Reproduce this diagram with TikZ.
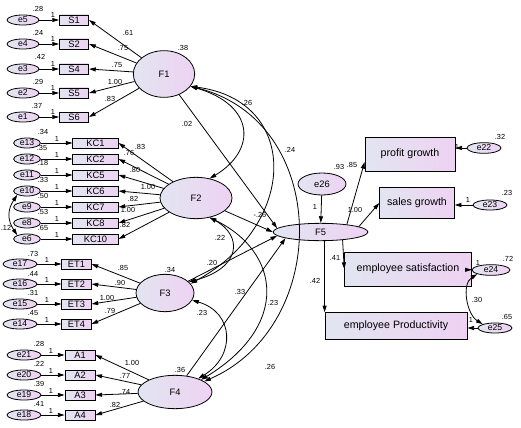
\documentclass[tikz,border=0pt]{standalone}
\usepackage{fontspec}
\setmainfont{Liberation Sans}
\usetikzlibrary{arrows.meta,shapes.geometric}

\definecolor{shadeL}{RGB}{226,229,241}
\definecolor{shadeR}{RGB}{238,210,242}
\tikzset{every picture/.style={line width=0.6pt}}
\tikzset{
	lat/.style={ellipse, draw, left color=shadeL, right color=shadeR, inner sep=0pt, font=\fontsize{7}{8}\selectfont},
	errv/.style={ellipse, draw, left color=shadeL, right color=shadeR, inner sep=0pt, minimum height=7.5pt, minimum width=#1, font=\fontsize{6.5}{7}\selectfont},
	obsv/.style={rectangle, draw, left color=shadeL, right color=shadeR, inner sep=0pt, minimum height=7.5pt, minimum width=#1, font=\fontsize{7}{8}\selectfont},
	bigv/.style={rectangle, draw, left color=shadeL, right color=shadeR, inner sep=0pt, minimum width=#1, font=\fontsize{8}{9}\selectfont},
	est/.style={inner sep=0pt, font=\fontsize{5.5}{6}\selectfont},
	pth/.style={-{Triangle[length=5pt,width=3pt]}},
	cov/.style={{Triangle[length=5pt,width=3pt]}-{Triangle[length=5pt,width=3pt]}},
}

\begin{document}
\begin{tikzpicture}[x=0.75pt,y=0.75pt,yscale=-1,xscale=1]
	\useasboundingbox (0,0) rectangle (521,428);

	%Latent factors
	\node [lat, minimum width=46pt, minimum height=35pt] (F1) at (164,74) {F1};
	\node [lat, minimum width=54pt, minimum height=31pt] (F2) at (196,198) {F2};
	\node [lat, minimum width=43.5pt, minimum height=28pt] (F3) at (165,293) {F3};
	\node [lat, minimum width=55.5pt, minimum height=25pt] (F4) at (175,392) {F4};
	\node [lat, minimum width=71pt, minimum height=13pt] (F5) at (320.5,232) {F5};
	\node [lat, minimum width=36pt, minimum height=16.5pt] (e26) at (322,184) {e26};

	%S items
	\node [errv=24pt] (e5) at (23,20) {e5};
	\node [obsv=22pt] (S1) at (74,20) {S1};
	\node [errv=24pt] (e4) at (23,44) {e4};
	\node [obsv=22pt] (S2) at (74,44) {S2};
	\node [errv=24pt] (e3) at (23,69) {e3};
	\node [obsv=22pt] (S4) at (74,69) {S4};
	\node [errv=24pt] (e2) at (23,93) {e2};
	\node [obsv=22pt] (S5) at (74,93) {S5};
	\node [errv=24pt] (e1) at (23,117) {e1};
	\node [obsv=22pt] (S6) at (74,117) {S6};

	%KC items
	\node [errv=20pt] (e13) at (27,143) {e13};
	\node [obsv=34pt] (KC1) at (95.5,143) {KC1};
	\node [errv=20pt] (e12) at (27,159) {e12};
	\node [obsv=34pt] (KC2) at (95.5,159) {KC2};
	\node [errv=20pt] (e11) at (27,175) {e11};
	\node [obsv=34pt] (KC5) at (95.5,175) {KC5};
	\node [errv=20pt] (e10) at (27,191) {e10};
	\node [obsv=34pt] (KC6) at (95.5,191) {KC6};
	\node [errv=20pt] (e9) at (27,207) {e9};
	\node [obsv=34pt] (KC7) at (95.5,207) {KC7};
	\node [errv=20pt] (e8) at (27,223) {e8};
	\node [obsv=34pt] (KC8) at (95.5,223) {KC8};
	\node [errv=20pt] (e6) at (27,239) {e6};
	\node [obsv=34pt] (KC10) at (95.5,239) {KC10};

	%ET items
	\node [errv=25.5pt] (e17) at (20,264) {e17};
	\node [obsv=22pt] (ET1) at (76.5,264) {ET1};
	\node [errv=25.5pt] (e16) at (20,284) {e16};
	\node [obsv=22pt] (ET2) at (76.5,284) {ET2};
	\node [errv=25.5pt] (e15) at (20,304) {e15};
	\node [obsv=22pt] (ET3) at (76.5,304) {ET3};
	\node [errv=25.5pt] (e14) at (20,324) {e14};
	\node [obsv=22pt] (ET4) at (76.5,324) {ET4};

	%A items
	\node [errv=25.5pt] (e21) at (24,355) {e21};
	\node [obsv=22.5pt] (A1) at (80,355) {A1};
	\node [errv=25.5pt] (e20) at (24,375) {e20};
	\node [obsv=22.5pt] (A2) at (80,375) {A2};
	\node [errv=25.5pt] (e19) at (24,395) {e19};
	\node [obsv=22.5pt] (A3) at (80,395) {A3};
	\node [errv=25.5pt] (e18) at (24,415) {e18};
	\node [obsv=22.5pt] (A4) at (80,415) {A4};

	%Outcomes
	\node [bigv=67.5pt, minimum height=25.5pt] (pg) at (410,154) {profit growth};
	\node [bigv=56pt, minimum height=23pt] (sg) at (417,203) {sales growth};
	\node [bigv=95pt, minimum height=25.5pt] (es) at (408,269) {employee satisfaction};
	\node [bigv=106.5pt, minimum height=20pt] (ep) at (396,326) {employee Productivity};
	\node [errv=25.5pt, minimum height=8pt] (e22) at (484,148) {e22};
	\node [errv=25.5pt] (e23) at (490,205) {e23};
	\node [errv=28.5pt, minimum height=8pt] (e24) at (491,270) {e24};
	\node [errv=25.5pt] (e25) at (495,328) {e25};

	%Error arrows
	\draw [pth] (e5) -- (S1);
	\draw [pth] (e4) -- (S2);
	\draw [pth] (e3) -- (S4);
	\draw [pth] (e2) -- (S5);
	\draw [pth] (e1) -- (S6);
	\draw [pth] (e13) -- (KC1);
	\draw [pth] (e12) -- (KC2);
	\draw [pth] (e11) -- (KC5);
	\draw [pth] (e10) -- (KC6);
	\draw [pth] (e9) -- (KC7);
	\draw [pth] (e8) -- (KC8);
	\draw [pth] (e6) -- (KC10);
	\draw [pth] (e17) -- (ET1);
	\draw [pth] (e16) -- (ET2);
	\draw [pth] (e15) -- (ET3);
	\draw [pth] (e14) -- (ET4);
	\draw [pth] (e21) -- (A1);
	\draw [pth] (e20) -- (A2);
	\draw [pth] (e19) -- (A3);
	\draw [pth] (e18) -- (A4);
	\draw [pth] (e22.west) -- (e22.west -| pg.east);
	\draw [pth] (e23.west) -- (e23.west -| sg.east);
	\draw [pth] (e24) -- (es);
	\draw [pth] (e25.west) -- (e25.west -| ep.east);
	\draw [pth] (e26) -- (F5);

	%Loadings
	\draw [pth] (F1) -- (S1.east);
	\draw [pth] (F1) -- (S2.east);
	\draw [pth] (F1) -- (S4.east);
	\draw [pth] (F1) -- (S5.east);
	\draw [pth] (F1) -- (S6.east);
	\draw [pth] (F2) -- (KC1.east);
	\draw [pth] (F2) -- (KC2.east);
	\draw [pth] (F2) -- (KC5.east);
	\draw [pth] (F2) -- (KC6.east);
	\draw [pth] (F2) -- (KC7.east);
	\draw [pth] (F2) -- (KC8.east);
	\draw [pth] (F2) -- (KC10.east);
	\draw [pth] (F3) -- (ET1.east);
	\draw [pth] (F3) -- (ET2.east);
	\draw [pth] (F3) -- (ET3.east);
	\draw [pth] (F3) -- (ET4.east);
	\draw [pth] (F4) -- (A1.east);
	\draw [pth] (F4) -- (A2.east);
	\draw [pth] (F4) -- (A3.east);
	\draw [pth] (F4) -- (A4.east);
	\draw [pth] (F5.16) -- (pg.190);
	\draw [pth] (F5.8) -- (sg.west);
	\draw [pth] (F5.-20) -- (es.west);
	\draw [pth] (F5.south -| ep.west) -- (ep.north west);

	%Structural paths
	\draw [pth] (F1) -- (F5.175);
	\draw [pth] (F2) -- (F5.west);
	\draw [pth] (F3) -- (F5.185);
	\draw [pth] (F4) -- (F5.190);

	%Covariances
	\draw [cov] (F1.-25) .. controls +(65,19) and +(47,-28) .. (F2.55);
	\draw [cov] (F1.-25) .. controls +(110,14) and +(108,-59) .. (F3.20);
	\draw [cov] (F1.-25) .. controls +(140,34) and +(128,-56) .. (F4.20);
	\draw [cov] (F2.-55) .. controls +(33,18) and +(53,-14) .. (F3.25);
	\draw [cov] (F2.-55) .. controls +(70,34) and +(90,-55) .. (F4.25);
	\draw [cov] (F3.-15) .. controls +(42,12) and +(38,-23) .. (F4.30);
	\draw [cov] (e10.south west) .. controls +(-10,15) and +(-10,-15) .. (e6.north west);
	\draw [cov] (e24.south west) .. controls +(-16,10) and +(-16,-10) .. (e25.north west);

	% Text Node
	\node [est] (v5) at (38,9) {.28};
	\node [est] (v4) at (38,33) {.24};
	\node [est] (v3) at (40,57) {.42};
	\node [est] (v2) at (38,82) {.29};
	\node [est] (v1) at (37,106) {.37};
	\node [est] (o5) at (53,15) {1};
	\node [est] (o4) at (53,39) {1};
	\node [est] (o3) at (53,64) {1};
	\node [est] (o2) at (53,88) {1};
	\node [est] (o1) at (53,112) {1};
	\node [est] (wS1) at (128,33) {.61};
	\node [est] (wS2) at (123,48) {.75};
	\node [est] (wS4) at (117,65) {.75};
	\node [est] (wS5) at (115,82) {1.00};
	\node [est] (wS6) at (110,99) {.83};
	% Text Node
	\node [est] (v13) at (43,132) {.34};
	\node [est] (v12) at (42,148) {.35};
	\node [est] (v11) at (43,163) {.18};
	\node [est] (v10) at (43,180) {.33};
	\node [est] (v9) at (43,196) {.50};
	\node [est] (v8) at (43,212) {.53};
	\node [est] (v6) at (43,228) {.65};
	\node [est] (o13) at (57,139) {1};
	\node [est] (o12) at (57,155) {1};
	\node [est] (o11) at (57,171) {1};
	\node [est] (o10) at (57,187) {1};
	\node [est] (o9) at (57,203) {1};
	\node [est] (o8) at (57,219) {1};
	\node [est] (o6) at (57,235) {1};
	\node [est] (wK1) at (140,147) {.83};
	\node [est] (wK2) at (129,153) {.76};
	\node [est] (wK5) at (135,170) {.80};
	\node [est] (wK6) at (148,187) {1.00};
	\node [est] (wK7) at (133,199) {.82};
	\node [est] (wK8) at (128,210) {1.00};
	\node [est] (wK10) at (125,225) {.82};
	\node [est, anchor=west] (c106) at (0.5,228) {.12};
	% Text Node
	\node [est] (v17) at (33,254) {.73};
	\node [est] (v16) at (33,274) {.44};
	\node [est] (v15) at (33,293) {.31};
	\node [est] (v14) at (33,313) {.45};
	\node [est] (o17) at (47,260) {1};
	\node [est] (o16) at (47,280) {1};
	\node [est] (o15) at (47,300) {1};
	\node [est] (o14) at (47,320) {1};
	\node [est] (wE1) at (123,268) {.85};
	\node [est] (wE2) at (120,283) {.90};
	\node [est] (wE3) at (107,298) {1.00};
	\node [est] (wE4) at (110,311) {.79};
	% Text Node
	\node [est] (v21) at (39,344) {.28};
	\node [est] (v20) at (39,364) {.22};
	\node [est] (v19) at (39,384) {.39};
	\node [est] (v18) at (39,404) {.41};
	\node [est] (o21) at (51,351) {1};
	\node [est] (o20) at (51,371) {1};
	\node [est] (o19) at (51,391) {1};
	\node [est] (o18) at (51,411) {1};
	\node [est] (wA1) at (132,363) {1.00};
	\node [est] (wA2) at (125,376) {.77};
	\node [est] (wA3) at (125,392) {.74};
	\node [est] (wA4) at (115,405) {.82};
	% Text Node
	\node [est] (vF1) at (183,48) {.38};
	\node [est] (vF3) at (170,270) {.34};
	\node [est] (vF4) at (180,370) {.36};
	\node [est] (c12) at (247,103) {.26};
	\node [est] (b1) at (187,124) {.02};
	\node [est] (c13) at (290,150) {.24};
	\node [est] (b2) at (260,215) {-.26};
	\node [est] (c23) at (220,238) {.22};
	\node [est] (b3) at (212,263) {.20};
	\node [est] (b4) at (240,292) {.33};
	\node [est] (c24) at (273,303) {.23};
	\node [est] (c34) at (202,313) {.23};
	\node [est] (c14) at (270,367) {.26};
	% Text Node
	\node [est] (rF5) at (339,167) {.93};
	\node [est] (wpg) at (352,165) {.85};
	\node [est] (o26) at (315,207) {1};
	\node [est] (wsg) at (355,210) {1.00};
	\node [est] (wes) at (335,258) {.41};
	\node [est] (wep) at (315,281) {.42};
	\node [est] (v22) at (500,137) {.32};
	\node [est] (o22) at (457,147) {1};
	\node [est] (v23) at (507,193) {.23};
	\node [est] (o23) at (468,200) {1};
	\node [est] (v24) at (508,259) {.72};
	\node [est] (o24) at (478,263) {1};
	\node [est] (v25) at (507,317) {.65};
	\node [est] (o25) at (471,320) {1};
	\node [est] (c2425) at (477,300) {.30};

\end{tikzpicture}
\end{document}
